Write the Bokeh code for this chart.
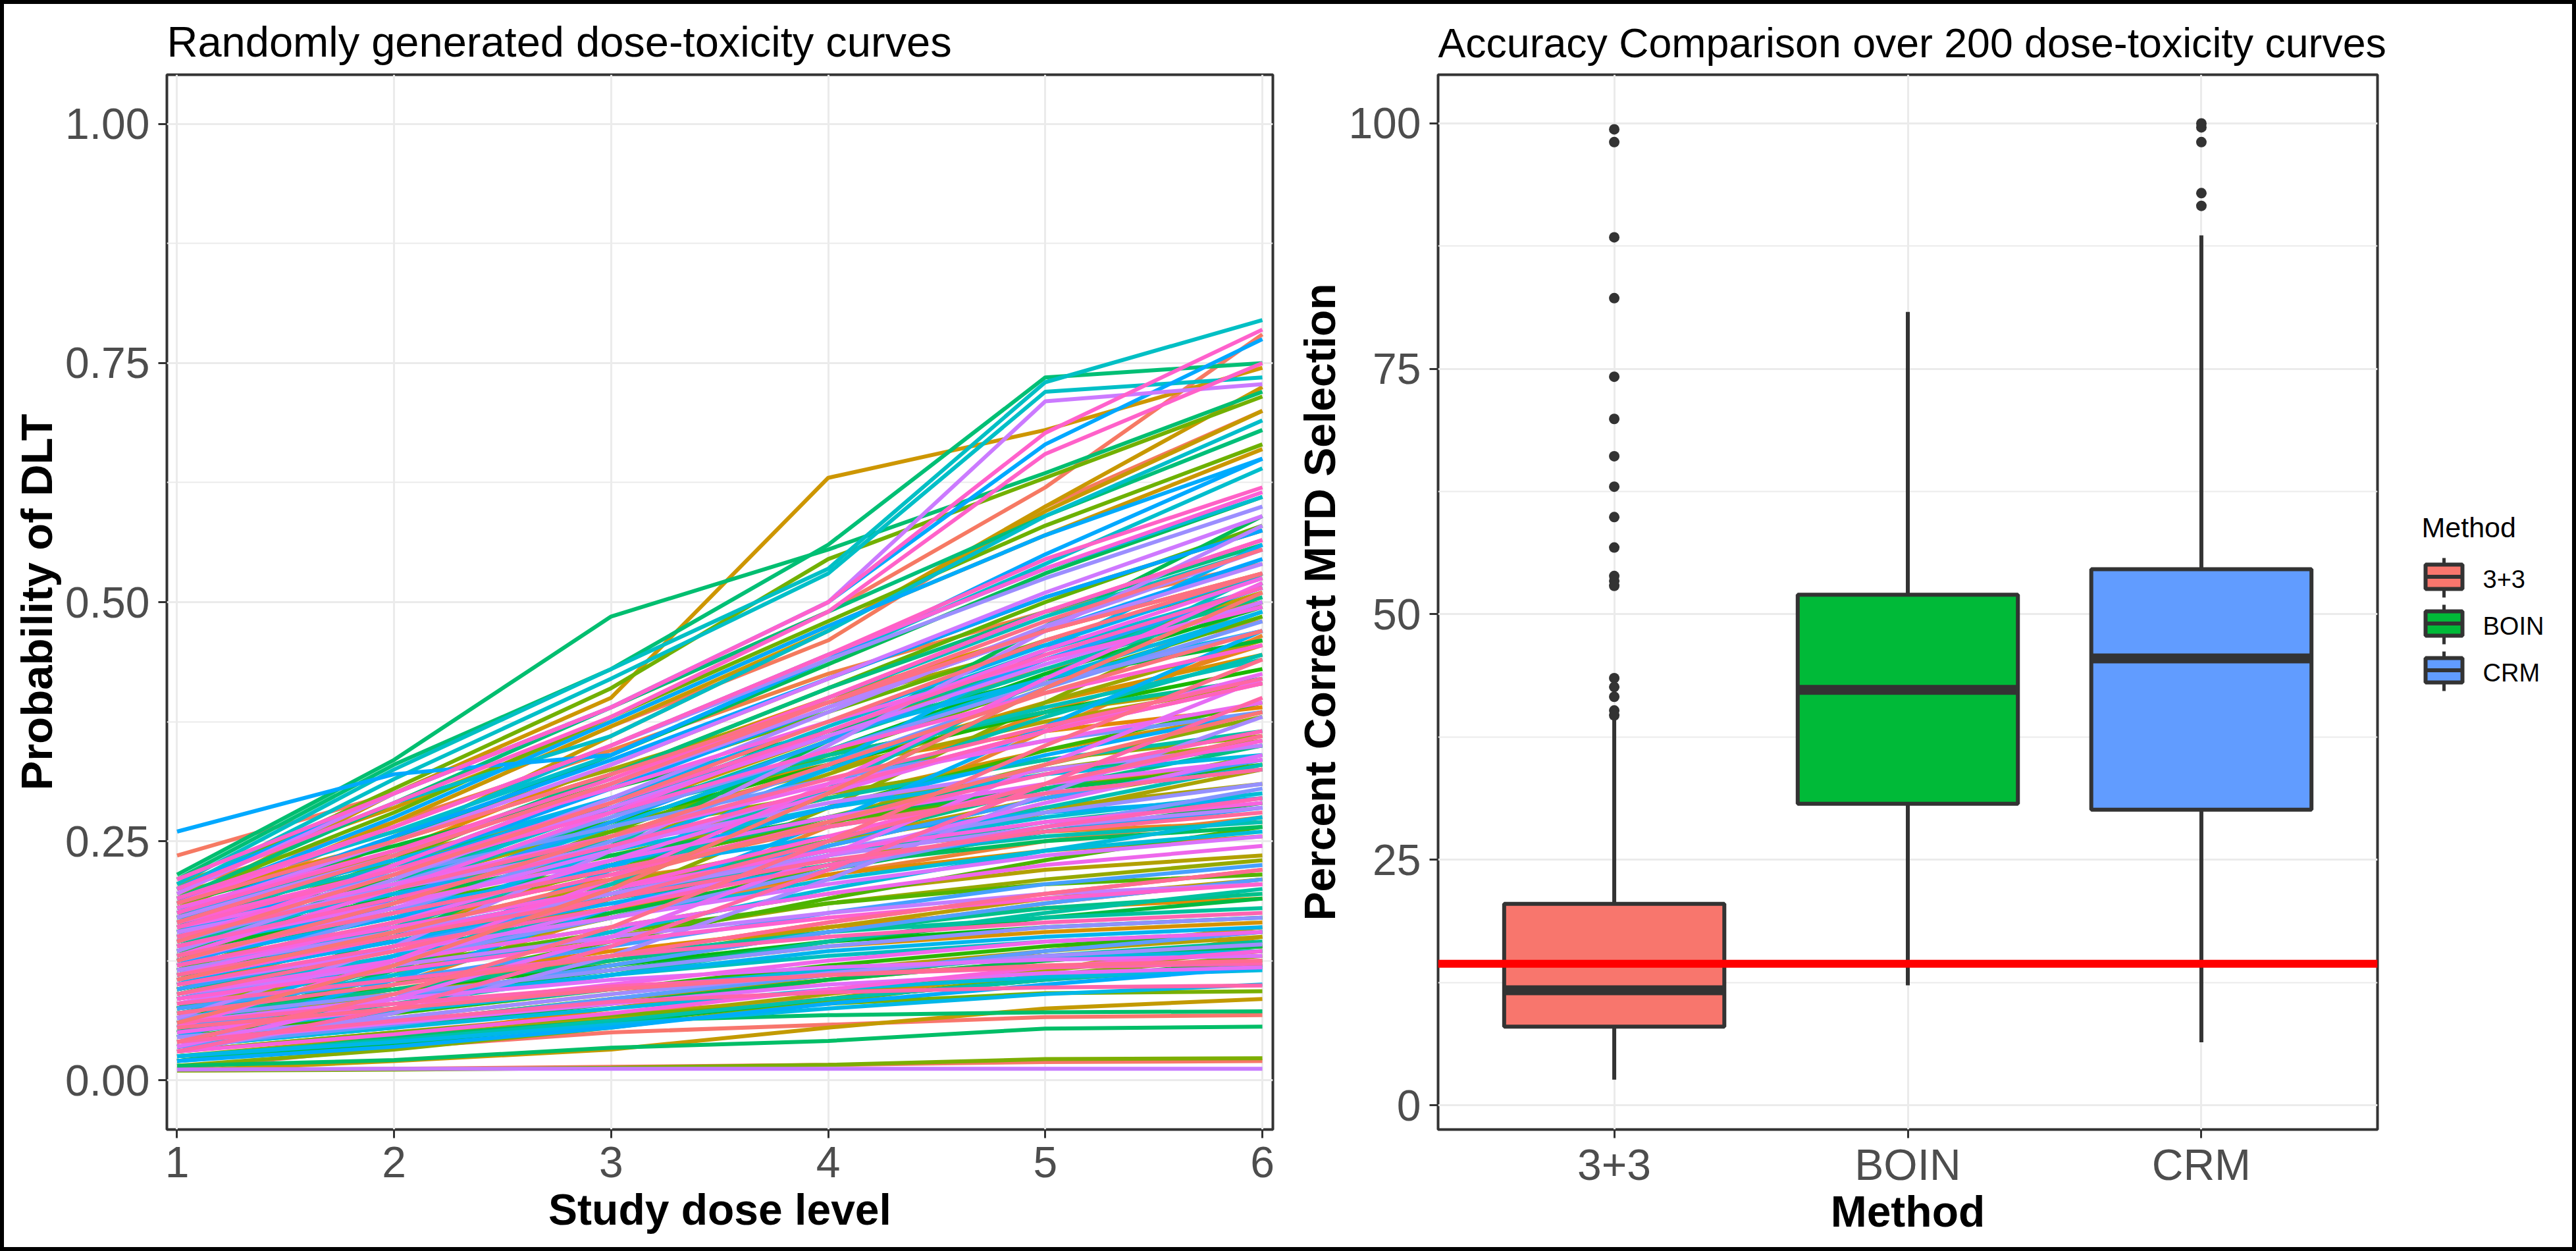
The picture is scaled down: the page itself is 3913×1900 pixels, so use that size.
import math
from bokeh.plotting import figure
from bokeh.layouts import row
from bokeh.models import FixedTicker, Range1d, FactorRange, Span, NumeralTickFormatter
from bokeh.core.properties import value
from bokeh.embed import file_html
from bokeh.resources import INLINE

# ---------- data: dose-toxicity curves, in draw (hue) order; one row per curve, dose levels 1..6
dose_levels = [1, 2, 3, 4, 5, 6]
curves_salmon = [
    [.012,.034,.050,.058,.066,.068],[.010,.012,.014,.016,.019,.020],[.235,.300,.390,.490,.620,.780],
    [.170,.270,.370,.460,.600,.700],[.030,.050,.070,.085,.105,.120],[.115,.165,.215,.265,.305,.335],
    [.060,.095,.130,.165,.195,.220],[.200,.270,.345,.425,.490,.540],[.145,.215,.290,.365,.430,.480],
    [.085,.125,.170,.215,.250,.275],[.045,.100,.175,.265,.365,.465],[.135,.175,.210,.240,.260,.270],
    [.095,.155,.225,.300,.385,.455],[.180,.235,.285,.330,.365,.390],[.020,.045,.075,.105,.135,.160],
    [.075,.105,.135,.160,.180,.190],[.160,.240,.330,.420,.505,.575],[.110,.145,.180,.215,.240,.255],
    [.050,.085,.120,.155,.185,.210],[.190,.250,.320,.400,.470,.530],[.125,.190,.255,.330,.395,.445],
    [.070,.090,.115,.140,.155,.165],[.035,.060,.085,.105,.125,.140],[.150,.195,.245,.295,.345,.385],
    [.025,.040,.060,.085,.115,.150]]
curves_gold = [
    [.185,.300,.400,.630,.680,.745],[.205,.285,.375,.475,.570,.660],[.180,.270,.370,.470,.600,.725],
    [.155,.250,.360,.470,.595,.700],[.010,.020,.032,.055,.075,.085],[.130,.200,.280,.360,.440,.510],
    [.100,.150,.200,.250,.295,.330],[.060,.090,.125,.160,.190,.210],[.170,.225,.285,.340,.385,.415],
    [.040,.065,.090,.115,.135,.150],[.090,.125,.160,.195,.220,.235],[.145,.205,.265,.325,.375,.415],
    [.120,.160,.205,.250,.285,.310],[.075,.120,.170,.225,.280,.325],[.025,.045,.065,.090,.115,.135],
    [.195,.260,.325,.395,.455,.500],[.110,.175,.245,.320,.395,.460],[.055,.075,.095,.115,.130,.140],
    [.140,.185,.235,.285,.325,.355],[.080,.115,.150,.185,.210,.230],[.165,.215,.260,.300,.335,.360],
    [.050,.110,.190,.285,.395,.500],[.125,.170,.220,.275,.330,.380],[.015,.032,.055,.082,.110,.130],
    [.095,.140,.190,.245,.295,.340]]
curves_green = [
    [.010,.011,.013,.016,.022,.023],[.030,.050,.068,.080,.091,.093],[.200,.305,.410,.545,.630,.715],
    [.190,.280,.380,.480,.580,.665],[.175,.240,.310,.385,.460,.525],[.150,.230,.320,.410,.500,.580],
    [.115,.185,.260,.340,.415,.485],[.085,.120,.155,.185,.205,.215],[.060,.100,.145,.190,.230,.265],
    [.135,.180,.225,.270,.305,.330],[.105,.165,.225,.285,.345,.395],[.045,.070,.095,.120,.140,.155],
    [.160,.210,.270,.330,.385,.430],[.070,.095,.120,.145,.160,.170],[.125,.195,.265,.345,.425,.495],
    [.020,.038,.060,.085,.105,.125],[.185,.245,.305,.365,.420,.460],[.095,.135,.175,.220,.260,.290],
    [.055,.085,.115,.145,.170,.190],[.145,.190,.235,.275,.305,.325],[.035,.055,.080,.105,.125,.140],
    [.075,.150,.245,.355,.475,.590],[.170,.250,.340,.435,.530,.610],[.110,.150,.190,.225,.250,.265],
    [.050,.115,.200,.300,.410,.520]]
curves_seagreen = [
    [.015,.021,.034,.041,.054,.056],[.020,.045,.062,.068,.071,.072],[.215,.335,.485,.555,.635,.720],
    [.210,.330,.430,.560,.735,.750],[.190,.290,.390,.490,.590,.680],[.160,.235,.320,.410,.490,.560],
    [.125,.175,.225,.275,.320,.350],[.090,.140,.195,.250,.305,.350],[.065,.095,.125,.155,.180,.195],
    [.140,.210,.285,.365,.440,.505],[.040,.060,.085,.110,.130,.145],[.180,.230,.285,.340,.385,.420],
    [.105,.145,.190,.235,.270,.295],[.075,.105,.130,.155,.170,.180],[.050,.080,.110,.145,.175,.200],
    [.130,.200,.275,.355,.430,.500],[.155,.200,.250,.295,.335,.365],[.025,.042,.062,.085,.105,.120],
    [.100,.160,.230,.305,.380,.445],[.115,.155,.195,.230,.255,.270],[.085,.130,.180,.235,.285,.330],
    [.170,.225,.280,.335,.390,.440],[.055,.120,.205,.305,.420,.530],[.145,.225,.310,.400,.485,.555],
    [.060,.085,.110,.130,.145,.155]]
curves_cyan = [
    [.205,.325,.430,.535,.730,.795],[.200,.315,.420,.530,.720,.735],[.200,.290,.360,.470,.590,.690],
    [.190,.260,.340,.440,.540,.640],[.165,.255,.350,.445,.535,.610],[.135,.205,.285,.370,.450,.515],
    [.110,.150,.195,.240,.275,.300],[.090,.130,.170,.210,.240,.260],[.070,.110,.155,.200,.240,.275],
    [.050,.072,.095,.115,.128,.135],[.035,.055,.075,.095,.108,.115],[.150,.195,.240,.285,.320,.340],
    [.120,.190,.265,.345,.420,.490],[.025,.040,.058,.075,.090,.100],[.175,.230,.295,.360,.420,.470],
    [.100,.165,.240,.325,.410,.490],[.060,.085,.110,.135,.150,.160],[.060,.130,.220,.330,.450,.560],
    [.140,.180,.220,.255,.280,.295],[.045,.105,.180,.270,.370,.470],[.155,.220,.295,.375,.455,.530],
    [.105,.145,.185,.225,.260,.285],[.125,.170,.225,.285,.340,.385],[.020,.035,.055,.080,.100,.118],
    [.185,.275,.375,.475,.570,.650]]
curves_blue = [
    [.260,.320,.340,.440,.550,.650],[.200,.300,.390,.500,.665,.775],[.175,.255,.335,.420,.505,.575],
    [.150,.225,.305,.390,.470,.545],[.120,.190,.270,.355,.440,.515],[.095,.140,.190,.245,.295,.335],
    [.075,.105,.140,.175,.205,.225],[.055,.085,.120,.155,.185,.210],[.035,.058,.085,.110,.135,.155],
    [.130,.175,.220,.265,.300,.325],[.165,.215,.265,.315,.355,.385],[.110,.175,.250,.330,.410,.480],
    [.085,.125,.170,.220,.265,.305],[.145,.205,.275,.345,.415,.470],[.065,.090,.115,.140,.160,.170],
    [.105,.150,.195,.240,.280,.310],[.190,.265,.350,.440,.525,.600],[.045,.065,.090,.112,.130,.142],
    [.030,.070,.130,.210,.300,.380],[.135,.210,.295,.385,.475,.555],[.115,.155,.195,.235,.265,.285],
    [.170,.235,.310,.390,.470,.540],[.065,.140,.240,.350,.470,.580],[.155,.200,.245,.290,.325,.350],
    [.090,.120,.150,.175,.195,.205]]
curves_purple = [
    [.011,.012,.012,.012,.012,.012],[.195,.300,.390,.500,.710,.728],[.175,.250,.330,.420,.510,.590],
    [.150,.215,.285,.360,.435,.500],[.125,.180,.240,.305,.365,.415],[.100,.135,.170,.205,.235,.255],
    [.080,.125,.180,.235,.290,.340],[.060,.085,.105,.118,.126,.130],[.040,.060,.080,.100,.112,.118],
    [.035,.085,.150,.235,.330,.420],[.140,.185,.230,.275,.310,.335],[.110,.165,.230,.300,.365,.425],
    [.160,.205,.255,.310,.355,.395],[.090,.125,.160,.195,.225,.245],[.050,.075,.100,.125,.145,.155],
    [.130,.200,.280,.365,.450,.525],[.180,.240,.305,.375,.440,.495],[.055,.125,.210,.310,.420,.520],
    [.120,.160,.200,.240,.270,.290],[.030,.048,.070,.095,.118,.135],[.145,.225,.310,.400,.490,.565],
    [.185,.265,.350,.445,.535,.615],[.105,.150,.200,.255,.310,.355],[.165,.220,.280,.345,.405,.455],
    [.085,.115,.145,.170,.190,.205]]
curves_pink = [
    [.210,.300,.390,.500,.677,.785],[.200,.290,.380,.490,.655,.750],[.190,.265,.350,.445,.545,.620],
    [.175,.240,.315,.400,.490,.565],[.160,.220,.290,.365,.445,.515],[.140,.190,.245,.305,.365,.415],
    [.120,.165,.215,.270,.320,.365],[.100,.140,.180,.225,.265,.295],[.080,.105,.130,.150,.165,.175],
    [.060,.080,.098,.110,.118,.122],[.040,.062,.082,.092,.097,.099],[.030,.075,.140,.220,.310,.400],
    [.150,.200,.255,.315,.370,.420],[.130,.175,.220,.265,.300,.325],[.110,.150,.190,.230,.260,.280],
    [.090,.135,.190,.250,.310,.360],[.070,.100,.130,.165,.195,.220],[.055,.075,.095,.110,.120,.125],
    [.040,.090,.160,.250,.350,.440],[.165,.235,.310,.395,.480,.555],[.185,.250,.320,.395,.470,.530],
    [.145,.215,.290,.375,.460,.530],[.125,.185,.255,.330,.405,.470],[.105,.155,.210,.270,.330,.385],
    [.060,.120,.200,.300,.410,.510]]

# ---------- data: boxplots
methods = ["3+3", "BOIN", "CRM"]
box_q1 = [8.0, 30.7, 30.1]
box_median = [11.7, 42.3, 45.5]
box_q3 = [20.5, 52.0, 54.6]
whisker_low = [2.6, 12.2, 6.4]
whisker_high = [39.5, 80.8, 88.6]
box_colors = ["#F8766D", "#00BA38", "#619CFF"]
outliers_33 = [99.4, 98.1, 88.4, 82.2, 74.2, 69.9, 66.1, 63.0, 59.9, 56.8, 53.9, 53.4, 52.9,
               43.5, 42.6, 41.6, 40.2, 39.7]
outliers_crm = [100.0, 99.6, 98.1, 92.9, 91.6]
reference_line = 14.4

FONT = "Liberation Sans"
INK = "#333333"
GRID = "#EBEBEB"


def hue_color(h, c=100.0, l=65.0):
    """ggplot2 default hue colour: polar LUV to sRGB."""
    hr = math.radians(h)
    u, v = c * math.cos(hr), c * math.sin(hr)
    y = ((l + 16) / 116) ** 3
    up, vp = u / (13 * l) + 0.19793943, v / (13 * l) + 0.46831096
    x = 9 * y * up / (4 * vp)
    z = -x / 3 - 5 * y + 3 * y / vp
    lin = [3.2406 * x - 1.5372 * y - 0.4986 * z,
           -0.9689 * x + 1.8758 * y + 0.0415 * z,
           0.0557 * x - 0.2040 * y + 1.0570 * z]
    out = []
    for a in lin:
        a = max(0.0, min(1.0, a))
        a = 12.92 * a if a <= 0.0031308 else 1.055 * a ** (1 / 2.4) - 0.055
        out.append(round(a * 255))
    return "#%02X%02X%02X" % tuple(out)


def style_axes(p):
    for ax in (p.xaxis[0], p.yaxis[0]):
        ax.axis_line_color = None
        ax.major_tick_in = 0
        ax.major_tick_out = 13
        ax.major_tick_line_color = INK
        ax.major_tick_line_width = 3
        ax.minor_tick_line_color = None
        ax.major_label_text_font = FONT
        ax.major_label_text_font_size = "66px"
        ax.major_label_text_color = "#4D4D4D"
        ax.major_label_standoff = 13
        ax.axis_label_text_font = FONT
        ax.axis_label_text_font_size = "66px"
        ax.axis_label_text_font_style = "bold"
        ax.axis_label_text_color = "#000000"
    p.xaxis[0].axis_label_standoff = 9
    p.yaxis[0].axis_label_standoff = 3
    p.outline_line_color = INK
    p.outline_line_width = 4
    p.outline_line_alpha = 1
    p.background_fill_color = "white"
    p.border_fill_color = None
    p.title.text_font = FONT
    p.title.text_font_style = "normal"
    p.title.text_color = "#000000"
    p.title.offset = 0
    p.title.standoff = 28
    for g in (p.xgrid[0], p.ygrid[0]):
        g.grid_line_color = GRID
        g.grid_line_width = 3
    p.ygrid[0].minor_grid_line_color = GRID
    p.ygrid[0].minor_grid_line_width = 2


# ---------- left panel
p1 = figure(width=1960, height=1900, output_backend="svg", toolbar_location=None,
            title="Randomly generated dose-toxicity curves",
            x_range=Range1d(0.953, 6.0485), y_range=Range1d(-0.0516, 1.0516),
            min_border_left=253, min_border_right=27, min_border_top=113, min_border_bottom=185,
            x_axis_label="Study dose level", y_axis_label="Probability of DLT")
p1.xaxis[0].ticker = FixedTicker(ticks=dose_levels)
p1.yaxis[0].ticker = FixedTicker(ticks=[0, .25, .5, .75, 1], minor_ticks=[.125, .375, .625, .875])
p1.yaxis[0].formatter = NumeralTickFormatter(format="0.00")
style_axes(p1)
p1.title.text_font_size = "65px"
p1.yaxis[0].axis_label_text_font_size = "67px"

all_curves = (curves_salmon + curves_gold + curves_green + curves_seagreen +
              curves_cyan + curves_blue + curves_purple + curves_pink)
n = len(all_curves)
curve_colors = [hue_color(15 + 360 * i / n) for i in range(n)]
for curve, color in zip(all_curves, curve_colors):
    p1.line(dose_levels, curve, line_color=color, line_width=6)

# ---------- right panel
p2 = figure(width=1700, height=1900, output_backend="svg", toolbar_location=None,
            title="Accuracy Comparison over 200 dose-toxicity curves",
            x_range=FactorRange(factors=methods, factor_padding=0, range_padding=0.1,
                                range_padding_units="absolute"),
            y_range=Range1d(-2.48, 104.96),
            min_border_left=224, min_border_right=49, min_border_top=113, min_border_bottom=185,
            x_axis_label="Method", y_axis_label="Percent Correct MTD Selection")
p2.yaxis[0].ticker = FixedTicker(ticks=[0, 25, 50, 75, 100], minor_ticks=[12.5, 37.5, 62.5, 87.5])
style_axes(p2)
p2.title.text_font_size = "62.6px"
p2.xaxis[0].major_label_standoff = 3
p2.xaxis[0].axis_label_standoff = -6

p2.segment(methods, whisker_low, methods, whisker_high, line_color=INK, line_width=6)
p2.vbar(x=methods, bottom=box_q1, top=box_q3, width=0.75, fill_color=box_colors,
        line_color=INK, line_width=6)
p2.rect(x=methods, y=box_median, width=0.75, height=15, height_units="screen",
        fill_color=INK, line_color=None)
p2.scatter(["3+3"] * len(outliers_33), outliers_33, size=16, fill_color=INK, line_color=None)
p2.scatter(["CRM"] * len(outliers_crm), outliers_crm, size=16, fill_color=INK, line_color=None)
p2.add_layout(Span(location=reference_line, dimension="width", line_color="#FF0000", line_width=12))

# ---------- legend panel (axes in page pixels; the row aligns its frame with the panels' frames)
p3 = figure(width=253, height=1900, output_backend="svg", toolbar_location=None,
            x_range=Range1d(3660, 3913), y_range=Range1d(1715, 113),
            x_axis_type=None, y_axis_type=None, min_border=0)
p3.outline_line_color = None
p3.background_fill_color = None
p3.border_fill_color = None
p3.grid.visible = False
p3.text([3678], [800], text=["Method"], text_font=value(FONT), text_font_size="43px",
        text_color="#000000", text_baseline="middle")
for i, (m, col) in enumerate(zip(methods, box_colors)):
    top = 857 + 71 * i
    p3.segment([3712], [top - 10], [3712], [top + 50], line_color=INK, line_width=5)
    p3.quad(left=[3684], right=[3740], top=[top], bottom=[top + 37], fill_color=col,
            line_color=INK, line_width=6)
    p3.segment([3684], [top + 18.5], [3740], [top + 18.5], line_color=INK, line_width=6)
    p3.text([3771], [top + 22], text=[m], text_font=value(FONT), text_font_size="38px",
            text_color="#000000", text_baseline="middle")

page = row(p1, p2, p3, spacing=0,
           styles={"outline": "6px solid black", "outline-offset": "-6px"})
open("out.html", "w").write(file_html(page, INLINE))
